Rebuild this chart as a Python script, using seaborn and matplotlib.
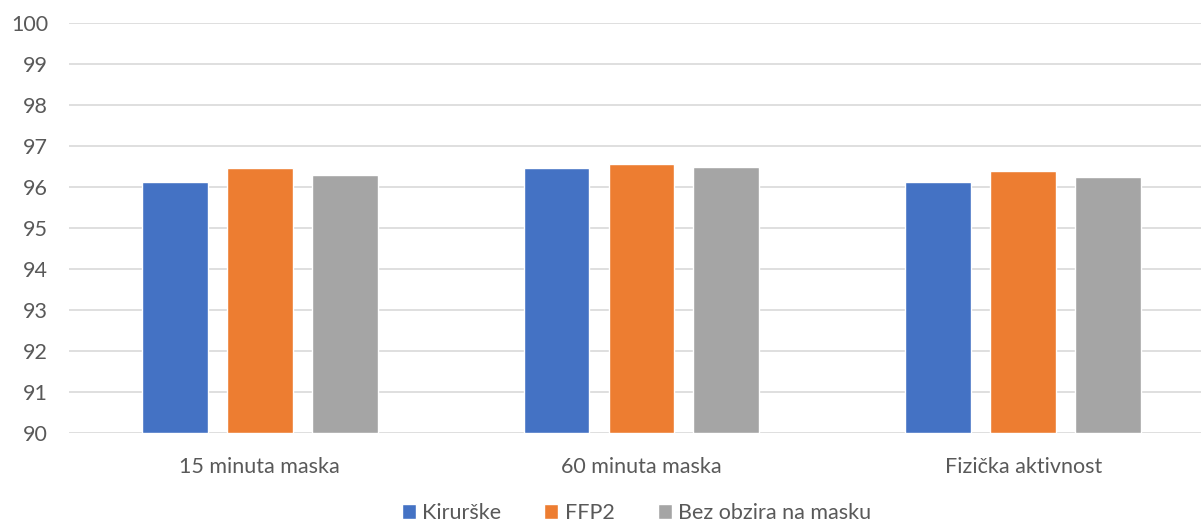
import matplotlib
matplotlib.use("Agg")
import matplotlib.pyplot as plt
import seaborn as sns
import pandas as pd

categories = ["15 minuta maska", "60 minuta maska", "Fizička aktivnost"]
series = ["Kirurške", "FFP2", "Bez obzira na masku"]
kirurske = [96.12, 96.46, 96.13]
ffp2 = [96.46, 96.55, 96.38]
bez_obzira = [96.29, 96.50, 96.24]
colors = ["#4472C4", "#ED7D31", "#A5A5A5"]

rows = []
for s, vals in zip(series, [kirurske, ffp2, bez_obzira]):
    for c, v in zip(categories, vals):
        rows.append({"cat": c, "series": s, "val": v})
df = pd.DataFrame(rows)

sns.set_theme(style="white")
plt.rcParams['font.family'] = ['Lato', 'DejaVu Sans']

fig = plt.figure(figsize=(12.01, 5.25), dpi=100)
ax = fig.add_axes([69/1201, 1 - 433/525, (1201 - 69)/1201, (433 - 23)/525])

sns.barplot(data=df, x="cat", y="val", hue="series", hue_order=series,
            order=categories, palette=colors, width=0.6675, gap=0.224,
            saturation=1, ax=ax, legend=True)

# bars start from 90 baseline
for p in ax.patches:
    h = p.get_height()
    y = p.get_y()
    if h != 0:
        top = y + h
        p.set_y(90)
        p.set_height(top - 90)

ax.set_ylim(90, 100)
ax.set_yticks(range(90, 101))
ax.set_xlim(-0.499, 2.465)
ax.grid(axis="y", color="#D9D9D9", linewidth=1.2)
ax.set_axisbelow(True)
for s in ax.spines.values():
    s.set_visible(False)
ax.tick_params(axis="both", length=0, labelsize=15.5, colors="#595959")
ax.tick_params(axis="y", pad=15)
ax.tick_params(axis="x", pad=17)
ax.set_xlabel("")
ax.set_ylabel("")

handles, labels = ax.get_legend_handles_labels()
ax.legend_.remove()
fig.legend(handles, labels, loc="center", bbox_to_anchor=(0.530, 1 - 513/525),
           ncol=3, frameon=False, fontsize=15.5, handlelength=0.65, handleheight=0.65,
           handletextpad=0.3, columnspacing=2.0, labelcolor="#595959")

fig.savefig("out.png", dpi=100)
